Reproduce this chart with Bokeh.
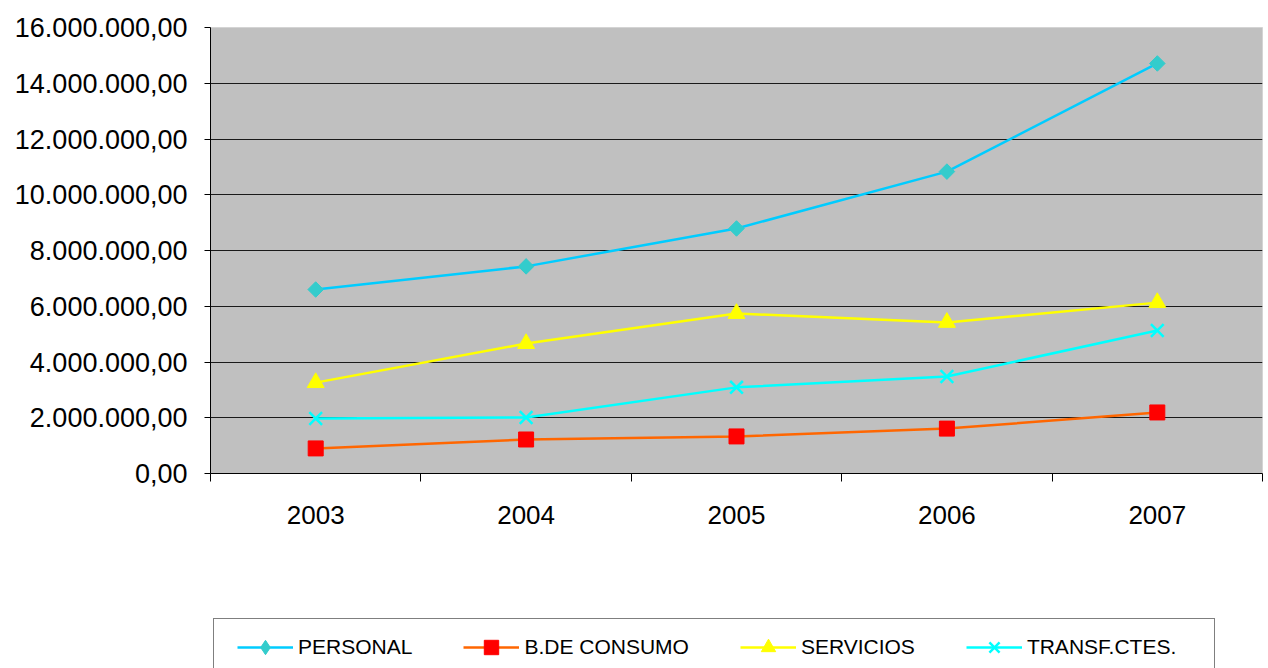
import math
from bokeh.plotting import figure
from bokeh.models import FixedTicker, Legend, LegendItem, Range1d
from bokeh.layouts import column
from bokeh.embed import file_html
from bokeh.resources import INLINE

years = ["2003", "2004", "2005", "2006", "2007"]
personal = [6600000, 7430000, 8790000, 10830000, 14710000]
consumo = [900000, 1220000, 1330000, 1610000, 2190000]
servicios = [3260000, 4660000, 5740000, 5420000, 6130000]
transf = [1970000, 2010000, 3090000, 3480000, 5130000]
y_ticks = [0, 2000000, 4000000, 6000000, 8000000, 10000000, 12000000, 14000000, 16000000]
y_labels = ["0,00", "2.000.000,00", "4.000.000,00", "6.000.000,00", "8.000.000,00",
            "10.000.000,00", "12.000.000,00", "14.000.000,00", "16.000.000,00"]

xs = [i + 0.5 for i in range(len(years))]
FONT = "Liberation Sans"

p = figure(width=1264, height=560, output_backend="svg", toolbar_location=None,
           x_range=Range1d(0, len(years)), y_range=Range1d(0, 16000000),
           min_border_left=210, min_border_right=2, min_border_top=27, min_border_bottom=87)
p.background_fill_color = "#c0c0c0"
p.border_fill_color = "white"
p.outline_line_color = "#d4d4d4"

p.xgrid.grid_line_color = None
p.ygrid.ticker = FixedTicker(ticks=y_ticks)
p.ygrid.grid_line_color = "#1a1a1a"
p.ygrid.grid_line_width = 1

p.yaxis.ticker = FixedTicker(ticks=y_ticks)
p.yaxis.major_label_overrides = {t: l for t, l in zip(y_ticks, y_labels)}
p.yaxis.major_label_text_font = FONT
p.yaxis.major_label_text_font_size = "27px"
p.yaxis.major_label_text_color = "black"
p.yaxis.axis_line_color = "black"
p.yaxis.major_tick_line_color = "black"
p.yaxis.major_tick_out = 6
p.yaxis.major_tick_in = 0
p.yaxis.minor_tick_line_color = None
p.yaxis.major_label_standoff = 17

p.xaxis.ticker = FixedTicker(ticks=xs, minor_ticks=list(range(len(years) + 1)))
p.xaxis.major_label_overrides = {x: y for x, y in zip(xs, years)}
p.xaxis.major_label_text_font = FONT
p.xaxis.major_label_text_font_size = "26px"
p.xaxis.major_label_text_color = "black"
p.xaxis.axis_line_color = "black"
p.xaxis.major_tick_line_color = None
p.xaxis.major_tick_out = 0
p.xaxis.major_tick_in = 0
p.xaxis.minor_tick_line_color = "black"
p.xaxis.minor_tick_out = 8
p.xaxis.minor_tick_in = 0
p.xaxis.major_label_standoff = 24

# name, values, line colour, marker (chart), marker (legend), marker colour, size, angle
series = [
    ("PERSONAL", personal, "#00ccff", "square", "diamond", "#33cccc", 11, math.pi / 4),
    ("B.DE CONSUMO", consumo, "#ff6600", "square", "square", "#ff0000", 15, 0.0),
    ("SERVICIOS", servicios, "#ffff00", "triangle", "triangle", "#ffff00", 17, 0.0),
    ("TRANSF.CTES.", transf, "#00ffff", "x", "x", "#00ffff", 18, 0.0),
]

# legend figure below the chart
p2 = figure(width=1264, height=108, output_backend="svg", toolbar_location=None,
            x_range=Range1d(100, 101), y_range=Range1d(100, 101),
            x_axis_location=None, y_axis_location=None,
            min_border_left=0, min_border_right=0, min_border_top=0, min_border_bottom=0)
p2.grid.visible = False
p2.outline_line_color = None
p2.background_fill_color = "white"
p2.border_fill_color = "white"

items = []
for name, vals, lc, marker, lmarker, mc, sz, ang in series:
    for fig, collect in ((p, False), (p2, True)):
        r1 = fig.line(xs, vals, line_color=lc, line_width=2.5)
        mk = lmarker if collect else marker
        if mk == "x":
            r2 = fig.scatter(xs, vals, marker=mk, size=sz, line_color=mc, line_width=2.5)
        else:
            r2 = fig.scatter(xs, vals, marker=mk, size=sz, angle=(0.0 if collect else ang),
                             fill_color=mc, line_color=mc, line_width=1)
        if collect:
            items.append(LegendItem(label=name, renderers=[r1, r2]))

# legend box (border only)
box_r = p2.line(xs, personal, line_alpha=0)
box = Legend(items=[LegendItem(label="", renderers=[box_r])], location=(3, -22),
             glyph_width=1000, glyph_height=70, label_width=0, label_standoff=0,
             padding=0, margin=0, border_line_color="black", border_line_width=1,
             background_fill_color="white", background_fill_alpha=1)
p2.add_layout(box, "center")

legend = Legend(items=items, orientation="horizontal", location=(27, 3),
                glyph_width=56, glyph_height=36, label_standoff=5, spacing=51,
                padding=8, margin=0, border_line_color=None,
                background_fill_alpha=0,
                label_text_font=FONT, label_text_font_size="21px", label_text_color="black")
p2.add_layout(legend, "center")

open("out.html", "w").write(file_html(column(p, p2, spacing=0), INLINE))
